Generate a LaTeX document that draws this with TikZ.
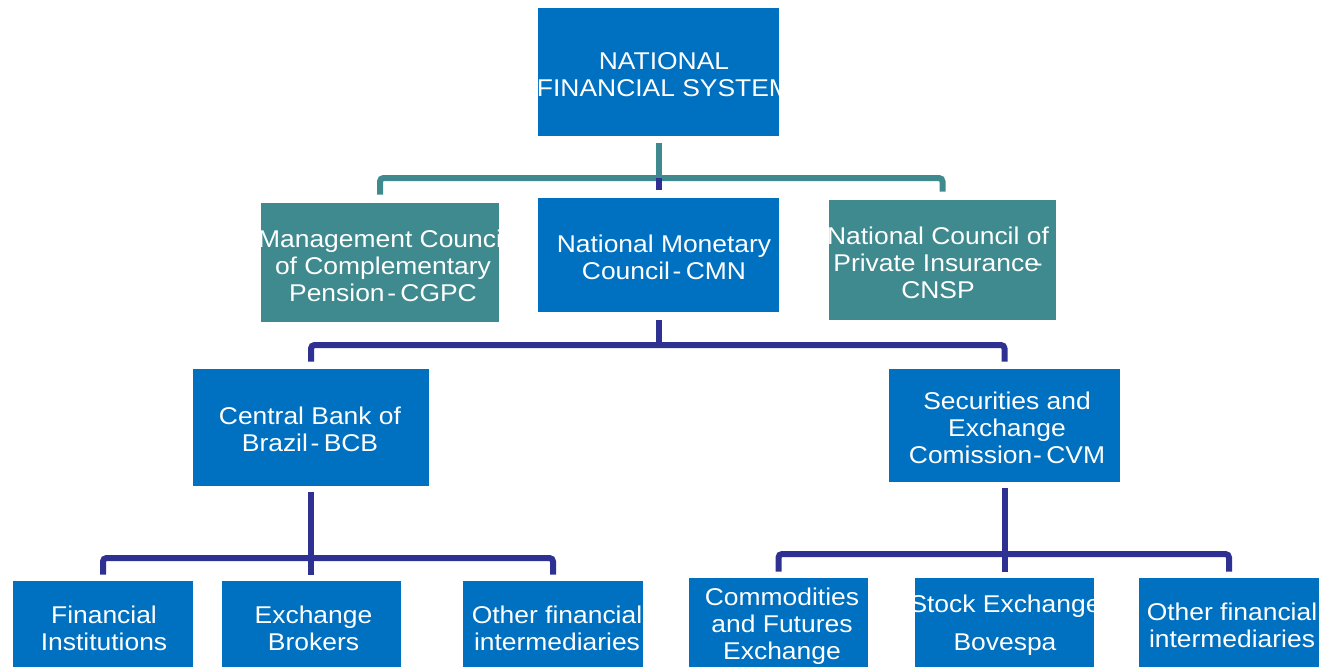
\documentclass[tikz,border=0pt]{standalone}
\usepackage{fontspec}
\setmainfont[FakeStretch=1.09]{Liberation Sans}
\usepackage{xcolor}
\definecolor{sfnblue}{HTML}{0070C0}
\definecolor{sfnteal}{HTML}{3F8A8E}
\definecolor{sfnnavy}{HTML}{2E3192}
\newcommand{\sfndash}{\kern1.5pt-\kern2.5pt}
\tikzset{
  orgbox/.style={rectangle,inner sep=0pt,draw=none},
  bluebox/.style={orgbox,fill=sfnblue},
  tealbox/.style={orgbox,fill=sfnteal},
  boxtxt/.style={text=white,align=center,inner sep=0pt,
    font=\fontsize{13.8}{15.4}\selectfont},
  txt at/.style n args={3}{path picture={
    \node[boxtxt] at ([xshift=#1cm,yshift=#2cm]path picture bounding box.center) {#3};}},
  tealline/.style={sfnteal,line width=0.12cm,rounded corners=2pt},
  navyline/.style={sfnnavy,line width=0.12cm,rounded corners=2pt}
}
\begin{document}
\begin{tikzpicture}[x=0.02cm,y=-0.02cm]
  \useasboundingbox (0,0) rectangle (1321,667);
  % top level
  \node[bluebox,minimum width=4.82cm,minimum height=2.56cm,
    txt at={0.11}{-0.06}{NATIONAL\\FINANCIAL SYSTEM}] (nfs) at (658.5,72) {};
  % councils
  \node[tealbox,minimum width=4.76cm,minimum height=2.38cm,
    txt at={0.06}{-0.07}{Management Council\\of Complementary\\Pension\sfndash CGPC}] (cgpc) at (380,262.5) {};
  \node[bluebox,minimum width=4.82cm,minimum height=2.28cm,
    txt at={0.11}{-0.05}{National Monetary\\Council\sfndash CMN}] (cmn) at (658.5,255) {};
  \node[tealbox,minimum width=4.54cm,minimum height=2.40cm,
    txt at={-0.09}{-0.06}{National Council of\\Private Insurance\kern-3pt-\\CNSP}] (cnsp) at (942.5,260) {};
  % supervisors
  \node[bluebox,minimum width=4.72cm,minimum height=2.34cm,
    txt at={-0.02}{-0.04}{Central Bank of\\Brazil\sfndash BCB}] (bcb) at (311,427.5) {};
  \node[bluebox,minimum width=4.62cm,minimum height=2.26cm,
    txt at={0.05}{-0.05}{Securities and\\Exchange\\Comission\kern.5pt-\kern2.5pt CVM}] (cvm) at (1004.5,425.5) {};
  % operators
  \node[bluebox,minimum width=3.60cm,minimum height=1.72cm,
    txt at={0.02}{-0.08}{Financial\\Institutions}] (fi) at (103,624) {};
  \node[bluebox,minimum width=3.58cm,minimum height=1.72cm,
    txt at={0.04}{-0.08}{Exchange\\Brokers}] (eb) at (311.5,624) {};
  \node[bluebox,minimum width=3.60cm,minimum height=1.72cm,
    txt at={0.08}{-0.08}{Other financial\\intermediaries}] (ofl) at (553,624) {};
  \node[bluebox,minimum width=3.58cm,minimum height=1.78cm,
    txt at={0.07}{-0.07}{Commodities\\and Futures\\Exchange}] (cfe) at (778.5,622.5) {};
  \node[bluebox,minimum width=3.58cm,minimum height=1.78cm,
    txt at={0.01}{-0.05}{Stock Exchange\\[6pt]Bovespa}] (se) at (1004.5,622.5) {};
  \node[bluebox,minimum width=3.60cm,minimum height=1.78cm,
    txt at={0.06}{-0.05}{Other financial\\intermediaries}] (ofr) at (1229,622.5) {};

  % connectors
  \coordinate (bus1) at (nfs.south |- 0,178);
  \coordinate (bus2) at (cmn.south |- 0,345);
  \coordinate (bus3) at (bcb.south |- 0,558);
  \coordinate (bus4) at (cvm.south |- 0,554);
  \draw[tealline,shorten <=0.14cm] (nfs.south) -- (bus1);
  \draw[tealline,shorten <=0.16cm,shorten >=0.16cm] (cgpc.north) |- (bus1) -| (cnsp.north);
  \draw[navyline,shorten >=0.16cm] (bus1) -- (cmn.north);
  \draw[navyline,shorten <=0.16cm] (cmn.south) -- (bus2);
  \draw[navyline,shorten <=0.14cm,shorten >=0.14cm] (bcb.north) |- (bus2) -| (cvm.north);
  \draw[navyline,shorten <=0.12cm,shorten >=0.12cm] (bcb.south) -- (bcb.south |- eb.north);
  \draw[navyline,shorten <=0.12cm,shorten >=0.12cm] (fi.north) |- (bus3) -| (ofl.north);
  \draw[navyline,shorten <=0.12cm,shorten >=0.12cm] (cvm.south) -- (se.north);
  \draw[navyline,shorten <=0.12cm,shorten >=0.12cm] (cfe.north) |- (bus4) -| (ofr.north);
\end{tikzpicture}
\end{document}
